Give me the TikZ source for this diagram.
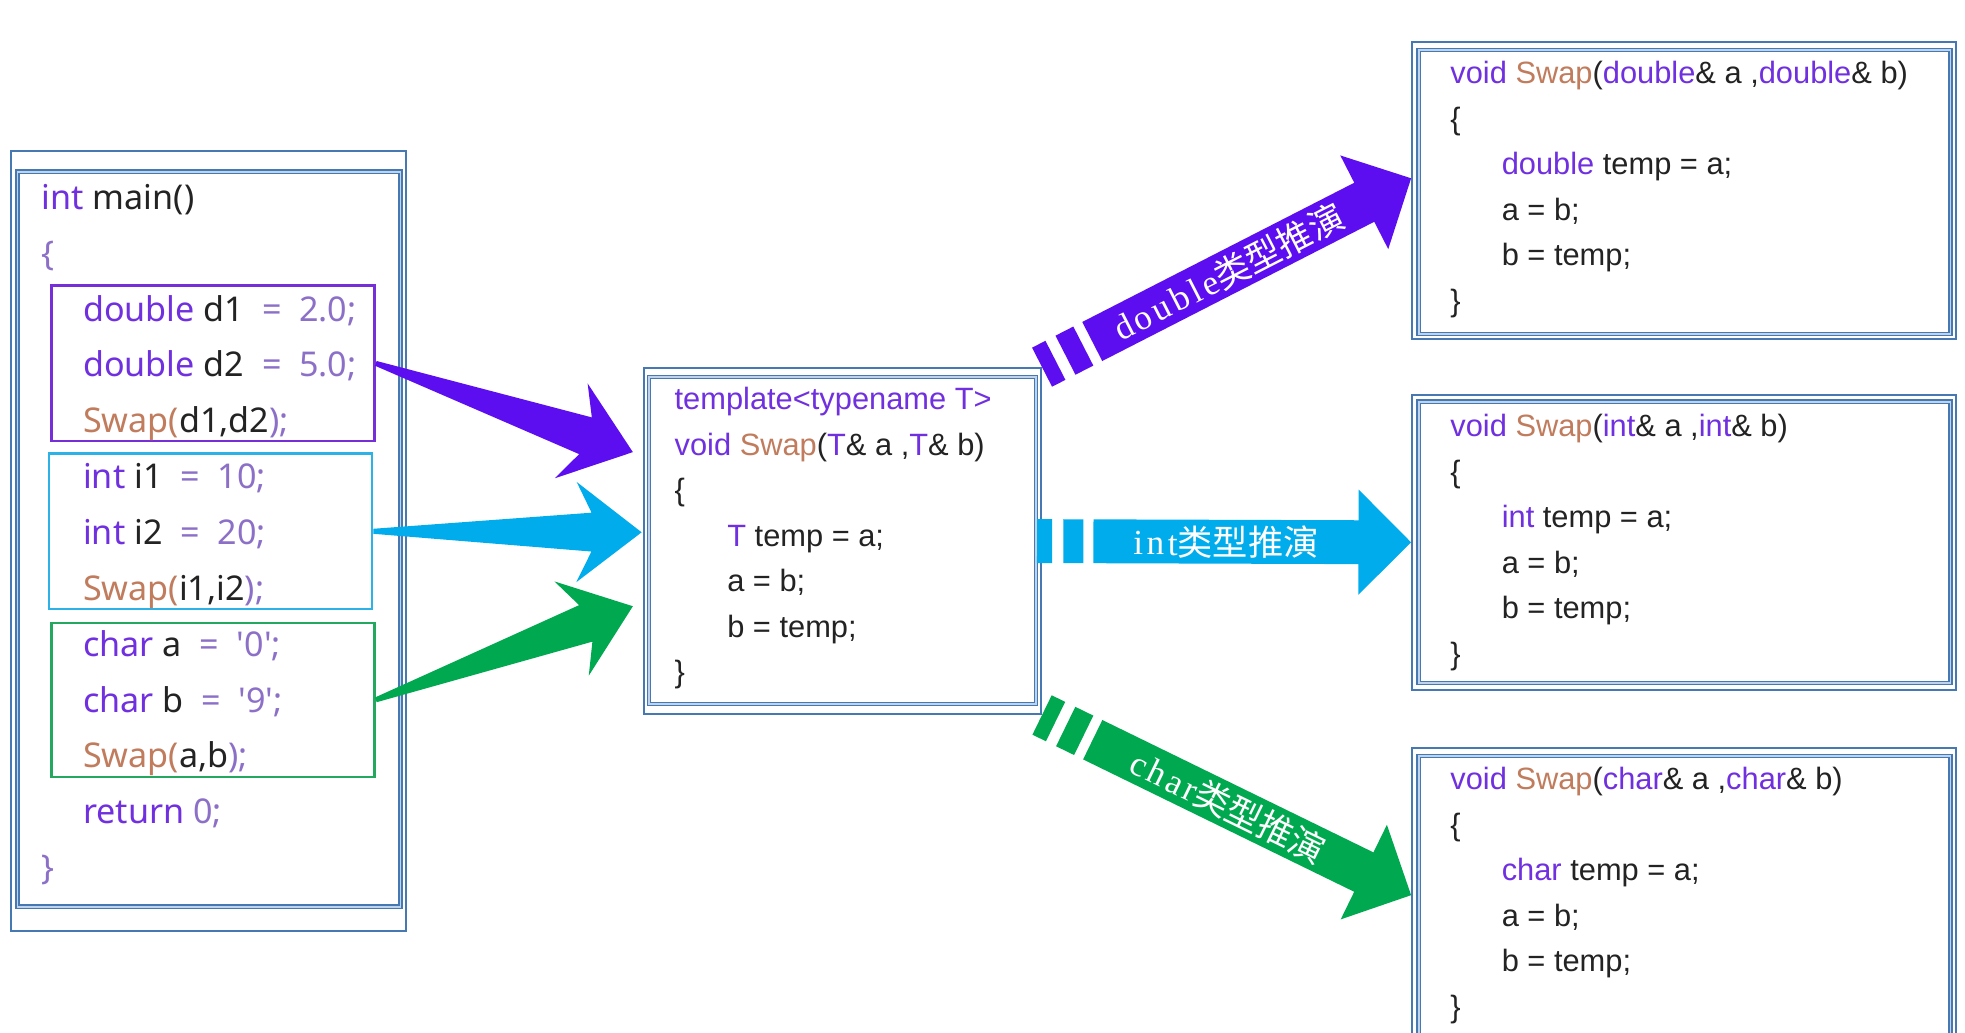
\documentclass[tikz,border=0pt]{standalone}
\usepackage{fontspec}
\usetikzlibrary{positioning}
\setmainfont{Liberation Sans}
\newfontfamily\yahei{Noto Sans}
\newfontfamily\armserif[LetterSpace=10]{Liberation Serif}
\newfontfamily\cjk{Noto Sans CJK SC}
\definecolor{framebl}{RGB}{70,120,178}
\definecolor{framelt}{RGB}{190,212,236}
\definecolor{kwpurple}{RGB}{112,48,224}
\definecolor{fnbrown}{RGB}{192,124,92}
\definecolor{litlilac}{RGB}{140,112,200}
\definecolor{codegray}{RGB}{35,35,35}
\definecolor{boxpurple}{RGB}{118,46,216}
\definecolor{boxcyan}{RGB}{44,178,230}
\definecolor{boxgreen}{RGB}{36,168,96}
\definecolor{arrpurple}{RGB}{92,14,240}
\definecolor{arrcyan}{RGB}{0,172,236}
\definecolor{arrgreen}{RGB}{0,168,80}
\newcommand{\kw}[1]{\textcolor{kwpurple}{#1}}
\newcommand{\fn}[1]{\textcolor{fnbrown}{#1}}
\newcommand{\lit}[1]{\textcolor{litlilac}{#1}}
% tapered arrow from #1 to #2
\newcommand{\taperarrow}[3]{%
  \path (#1); \pgfgetlastxy{\arrAx}{\arrAy}
  \path (#2); \pgfgetlastxy{\arrBx}{\arrBy}
  \pgfmathsetmacro\arrang{atan2(\arrBy-\arrAy,\arrBx-\arrAx)}
  \pgfmathsetmacro\arrlen{veclen(\arrBx-\arrAx,\arrBy-\arrAy)}
  \begin{scope}[shift={(#1)}, rotate=\arrang]
    \fill[#3] (0,0.04cm) -- ({\arrlen pt-0.8cm},0.31cm) -- ({\arrlen pt-1.04cm},0.8cm)
      -- (\arrlen pt,0) -- ({\arrlen pt-1.04cm},-0.8cm) -- ({\arrlen pt-0.8cm},-0.31cm)
      -- (0,-0.04cm) -- cycle;
  \end{scope}}
% broad arrow with two dashes at the tail, label #5 named #4
\newcommand{\bandarrow}[5]{%
  \path (#1); \pgfgetlastxy{\arrAx}{\arrAy}
  \path (#2); \pgfgetlastxy{\arrBx}{\arrBy}
  \pgfmathsetmacro\arrang{atan2(\arrBy-\arrAy,\arrBx-\arrAx)}
  \pgfmathsetmacro\arrlen{veclen(\arrBx-\arrAx,\arrBy-\arrAy)}
  \begin{scope}[shift={(#1)}, rotate=\arrang]
    \fill[#3] (0,-0.35cm) rectangle (0.24cm,0.35cm);
    \fill[#3] (0.42cm,-0.35cm) rectangle (0.74cm,0.35cm);
    \fill[#3] (0.9cm,-0.35cm) -- ({\arrlen pt-0.84cm},-0.35cm) -- ({\arrlen pt-0.84cm},-0.84cm)
      -- (\arrlen pt,0) -- ({\arrlen pt-0.84cm},0.84cm) -- ({\arrlen pt-0.84cm},0.35cm)
      -- (0.9cm,0.35cm) -- cycle;
    \node[armlabel, rotate=\arrang] (#4) at ({(0.9cm+\arrlen pt-0.84cm)/2},0) {#5};
  \end{scope}}

\begin{document}
\begin{tikzpicture}[x=0.02cm, y=-0.02cm,
  outbox/.style={rectangle, draw=framebl, line width=0.9pt, anchor=north west, inner sep=0pt},
  inframe/.style={draw=framebl, line width=0.6pt, double=framelt, double distance=0.8pt},
  groupbox/.style={rectangle, line width=1.1pt, anchor=north west, inner sep=0pt,
                   minimum width=5.16cm, minimum height=2.48cm},
  codeL/.style={font=\yahei\fontsize{15.5}{18}\selectfont, text=codegray, anchor=base west, inner sep=0pt},
  codeR/.style={font=\fontsize{14}{17}\selectfont, text=codegray, anchor=base west, inner sep=0pt},
  armlabel/.style={text=white, font=\fontsize{16}{19}\selectfont, inner sep=0pt}
]
\useasboundingbox (0,0) rectangle (1568,824);
\fill[white] (0,0) rectangle (1568,824);

\node[outbox, minimum width=6.3cm, minimum height=12.44cm] (mainbox) at (8,120) {};
\node[outbox, minimum width=6.34cm, minimum height=5.52cm] (tmpl) at (513,293) {};
\node[outbox, minimum width=8.68cm, minimum height=4.74cm] (dbl) at (1126,33) {};
\node[outbox, minimum width=8.68cm, minimum height=4.7cm, below=0.86cm of dbl] (intb) {};
\node[outbox, minimum width=8.68cm, minimum height=4.7cm, below=0.9cm of intb] (chr) {};
\foreach \bname/\ml/\mt/\mr/\mb in {mainbox/6/17/5/20, tmpl/5/8/5/9, dbl/6/7/5/5, intb/6/6/5/6, chr/6/7/5/6}
  \draw[inframe] ([shift={(\ml,\mt)}]\bname.north west) rectangle ([shift={(-\mr,-\mb)}]\bname.south east);

\node[groupbox, draw=boxpurple] (gd) at (40,227) {};
\node[groupbox, draw=boxcyan] (gi) at (38,361) {};
\node[groupbox, draw=boxgreen, minimum height=2.46cm] (gc) at (40,496) {};

\foreach \dx/\txt [count=\i from 0] in {0/{\kw{int} main()}, 0/\lit{\{},
    33/{\kw{double} d1\ \ \lit{=\ \ 2.0;}}, 33/{\kw{double} d2\ \ \lit{=\ \ 5.0;}}, 33/{\fn{Swap(}d1,d2\lit{);}},
    33/{\kw{int} i1\ \ \lit{=\ \ 10;}}, 33/{\kw{int} i2\ \ \lit{=\ \ 20;}}, 33/{\fn{Swap(}i1,i2\lit{);}},
    33/{\kw{char} a\ \ \lit{=\ \ '0';}}, 33/{\kw{char} b\ \ \lit{=\ \ '9';}}, 33/{\fn{Swap(}a,b\lit{);}},
    33/{\kw{return} \lit{0;}}, 0/\lit{\}}}
  \node[codeL] (m\i) at (33+\dx, 167+44.58*\i) {\txt};

\foreach \dx/\txt [count=\i from 0] in {0/{\kw{template<typename T>}}, 0/{\kw{void} \fn{Swap}(\kw{T}\& a ,\kw{T}\& b)},
    0/\{, 42/{\kw{T} temp = a;}, 42/{a = b;}, 42/{b = temp;}, 0/\}}
  \node[codeR] (t\i) at ([shift={(25+\dx,34+36.3*\i)}]tmpl.north west) {\txt};

\foreach \bname/\ty in {dbl/double, intb/int, chr/char}
  \foreach \dx/\txt [count=\i from 0] in {0/{\kw{void} \fn{Swap}(\kw{\ty}\& a ,\kw{\ty}\& b)}, 0/\{,
      41/{\kw{\ty} temp = a;}, 41/{a = b;}, 41/{b = temp;}, 0/\}}
    \node[codeR] (\bname\i) at ([shift={(31+\dx,34+36.3*\i)}]\bname.north west) {\txt};

\coordinate (td) at ([shift={(-0.16cm,1.42cm)}]tmpl.west);
\coordinate (ti) at ([shift={(-0.02cm,0.14cm)}]tmpl.west);
\coordinate (tc) at ([shift={(-0.16cm,-1.04cm)}]tmpl.west);
\taperarrow{gd.east}{td}{arrpurple}
\taperarrow{gi.east}{ti}{arrcyan}
\taperarrow{gc.east}{tc}{arrgreen}

\coordinate (dt) at ([yshift=0.2cm]dbl.west);
\coordinate (is) at ([xshift=-0.08cm]tmpl.east);
\bandarrow{tmpl.north east}{dt}{arrpurple}{ld}{{\armserif double}{\cjk 类型推演}}
\bandarrow{is}{intb.west}{arrcyan}{li}{{\armserif int}{\cjk 类型推演}}
\bandarrow{tmpl.south east}{chr.west}{arrgreen}{lc}{{\armserif char}{\cjk 类型推演}}
\end{tikzpicture}
\end{document}
